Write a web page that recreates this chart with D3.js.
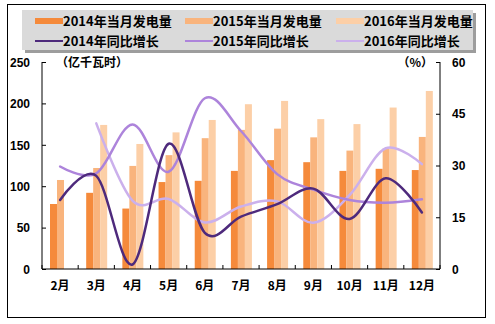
<!DOCTYPE html>
<html><head><meta charset="utf-8">
<script src="https://cdn.jsdelivr.net/npm/d3@7"></script>
<style>
html,body{margin:0;padding:0;background:#fff;}
svg{display:block;}
text{font-family:"Liberation Sans",Arial,sans-serif;font-weight:bold;fill:#000;}
.cjk{font-family:"Noto Sans CJK SC","Liberation Sans",sans-serif;}
</style>
</head><body>
<svg id="chart" width="495" height="324"></svg>
<script>
const months = ["2月","3月","4月","5月","6月","7月","8月","9月","10月","11月","12月"];
const gen2014 = [78.5, 92, 73, 105, 106.5, 118.5, 131.5, 129, 118.5, 121, 119.5];
const gen2015 = [107.5, 122, 124.5, 137.5, 158, 168, 169.5, 159, 143, 145.5, 159.5];
const gen2016 = [null, 174, 151, 165, 180, 199, 203, 181, 175, 195, 215];
const yoy2014 = [20.0, 27.0, 1.3, 36.3, 10.5, 15.2, 18.8, 23.3, 14.5, 26.3, 16.4];
const yoy2015 = [29.7, 27.7, 41.9, 28.2, 49.5, 40.0, 27.5, 23.0, 20.0, 19.2, 20.2];
const yoy2016 = [null, 42.2, 19.8, 20.3, 13.5, 18.1, 19.6, 13.4, 21.4, 35.0, 30.4];
const leftTicks = [0, 50, 100, 150, 200, 250];
const rightTicks = [0, 15, 30, 45, 60];
const barNames = ["2014年当月发电量","2015年当月发电量","2016年当月发电量"];
const lineNames = ["2014年同比增长","2015年同比增长","2016年同比增长"];

const barColors = ["#F58A3B","#F9B47D","#FCCFA7"];
const lineColors = ["#4E2A7C","#AD84DB","#CBB0EC"];

const svg = d3.select("#chart");
const L = 42, R = 440, T = 62, B = 269;

// outer border
svg.append("rect").attr("x",7.5).attr("y",4.5).attr("width",478).attr("height",313)
  .attr("fill","none").attr("stroke","#000").attr("stroke-width",1);

const x = d3.scaleBand().domain(months).range([L,R]).paddingInner(0).paddingOuter(0);
const yL = d3.scaleLinear().domain([0,250]).range([B,T]);
const yR = d3.scaleLinear().domain([0,60]).range([B,T]);
const groupPad = 8;
const xs = d3.scaleBand().domain([0,1,2]).range([groupPad, groupPad+21]).padding(0);

// bars
const barSeries = [gen2014, gen2015, gen2016];
barSeries.forEach((vals, si) => {
  svg.append("g").selectAll("rect")
    .data(months.map((m,i)=>({m, v: vals[i]})).filter(d=>d.v!=null))
    .join("rect")
    .attr("x", d => x(d.m) + xs(si))
    .attr("width", xs.bandwidth())
    .attr("y", d => yL(d.v))
    .attr("height", d => B - yL(d.v))
    .attr("fill", barColors[si]);
});

// lines
const lineSeries = [yoy2014, yoy2015, yoy2016];
const lineGen = d3.line()
  .x(d => x(d.m) + x.bandwidth()/2)
  .y(d => yR(d.v))
  .curve(d3.curveCardinal.tension(0));
[2,1,0].forEach(si => {
  const pts = months.map((m,i)=>({m, v: lineSeries[si][i]})).filter(d=>d.v!=null);
  svg.append("path").attr("d", lineGen(pts))
    .attr("fill","none").attr("stroke", lineColors[si])
    .attr("stroke-width", 2.5).attr("stroke-linecap","round");
});

// axes
const axL = d3.axisLeft(yL).tickValues(leftTicks).tickSize(-4).tickPadding(0).tickFormat(d3.format("d"));
const gL = svg.append("g").attr("transform",`translate(${L},0)`).call(axL);
gL.selectAll("text").attr("x",-12).attr("dy","0.35em").style("font-size","12px");

const axR = d3.axisRight(yR).tickValues(rightTicks).tickSize(-4).tickFormat(d3.format("d"));
const gR = svg.append("g").attr("transform",`translate(${R},0)`).call(axR);
gR.selectAll("text").attr("x",12).attr("dy","0.35em").style("font-size","12px");

const axB = d3.axisBottom(x).tickSize(0);
const gB = svg.append("g").attr("transform",`translate(0,${B})`).call(axB);
gB.selectAll("text").attr("class","cjk").attr("y",12).style("font-size","12px");
// bottom ticks at band edges (inside)
const edges = months.map(m => x(m)).concat([R]);
svg.append("g").selectAll("line").data(edges).join("line")
  .attr("x1", d=>d).attr("x2", d=>d).attr("y1", B).attr("y2", B-4)
  .attr("stroke","#000");
[gL,gR,gB].forEach(g => { g.select(".domain").attr("stroke","#000"); g.selectAll(".tick line").attr("stroke","#000"); });
gL.select(".domain").attr("d", `M0,${T}V${B}`);
gR.select(".domain").attr("d", `M0,${T}V${B}`);
gB.select(".domain").attr("d", `M${L},0H${R}`);

// unit labels
svg.append("text").attr("class","cjk").attr("x",56).attr("y",67).style("font-size","12px").text("（亿千瓦时）");
svg.append("text").attr("class","cjk").attr("x",433).attr("y",67).attr("text-anchor","end").style("font-size","12px").text("（%）");

// legend
const lg = svg.append("g");
lg.append("rect").attr("x",25).attr("y",13).attr("width",451).attr("height",40).attr("fill","#9d9d9d");
lg.append("rect").attr("x",22).attr("y",10).attr("width",451).attr("height",40).attr("fill","#DADADA");
const colX = [35, 185, 336];
const rowY = [21, 41];
barNames.forEach((n,i) => {
  lg.append("rect").attr("x",colX[i]).attr("y",rowY[0]-3).attr("width",28).attr("height",6).attr("fill",barColors[i]);
  lg.append("text").attr("class","cjk").attr("x",colX[i]+28).attr("y",rowY[0]).attr("dy","0.35em").style("font-size","13px").text(n);
});
lineNames.forEach((n,i) => {
  lg.append("line").attr("x1",colX[i]).attr("x2",colX[i]+28).attr("y1",rowY[1]).attr("y2",rowY[1]).attr("stroke",lineColors[i]).attr("stroke-width",2);
  lg.append("text").attr("class","cjk").attr("x",colX[i]+28).attr("y",rowY[1]).attr("dy","0.35em").style("font-size","13px").text(n);
});
</script>
</body></html>
